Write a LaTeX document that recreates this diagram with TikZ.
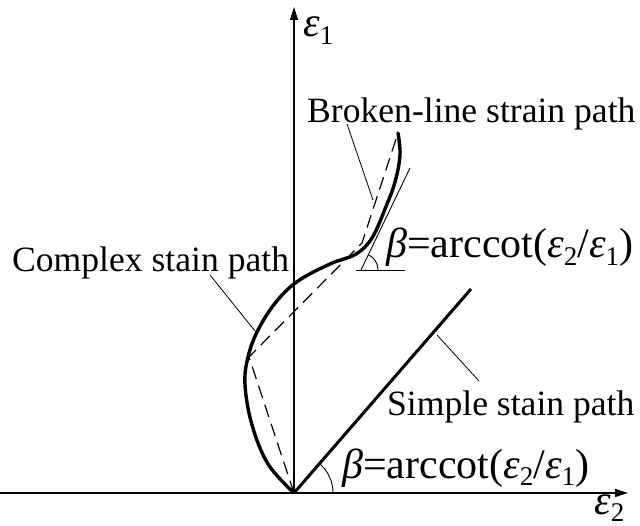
\documentclass[tikz,border=0pt]{standalone}
\usepackage{fontspec}
\setmainfont{Liberation Serif}
\usetikzlibrary{arrows.meta}
\newcommand\mysub[1]{\raisebox{-0.17em}{\fontsize{27}{27}\selectfont #1}}
\newcommand\myform{{\itshape β}=arccot({\itshape ε}\mysub{2}/{\itshape ε}\mysub{1})}
\begin{document}
\begin{tikzpicture}[x=1pt,y=-1pt,
  lbl/.style={inner sep=0pt,anchor=base west,font=\fontsize{35.6}{40}\selectfont},
  flbl/.style={inner sep=0pt,anchor=base west,font=\fontsize{42}{46}\selectfont},
  axis/.style={line width=1.2pt,-{Triangle[length=13pt,width=8pt]}},
  leader/.style={line width=0.8pt},
  thickpath/.style={line width=3.4pt,line cap=round,line join=round},
  dashpath/.style={line width=1.2pt,dash pattern=on 13pt off 7pt},
  thinline/.style={line width=0.9pt}]
\useasboundingbox (0,0) rectangle (640,526);
% axes
\coordinate (O) at (294,493);
\coordinate (xs) at (0,493);
\coordinate (xe) at (628,493);
\coordinate (ye) at (294,7);
\draw[axis] (xs) -- (xe);
\draw[axis] (O) -- (ye);
\node[flbl] (e1) at (303,37) {{\itshape ε}\mysub{1}};
\node[flbl] (e2) at (594,514) {{\itshape ε}\mysub{2}};
% simple path
\coordinate (S) at (471,289);
\draw[line width=3pt] (O) -- (S);
\draw[thinline] (O) ++(39,0) arc[start angle=0,end angle=-49,radius=39];
\node[flbl] (f2) at (342,478) {\myform};
\node[lbl] (simple) at (387,416) {Simple stain path};
\coordinate (sl1) at (437,335);
\coordinate (sl2) at (479,381);
\draw[leader] (sl2) -- (sl1);
% broken line path
\coordinate (A) at (249,357);
\coordinate (B) at (362,243);
\coordinate (C) at (398,133);
\draw[dashpath] (O) -- (A) -- (B) -- (C);
% complex path
\draw[thickpath] plot[smooth,tension=0.6] coordinates {(294,493) (268,464) (252,425) (245,385) (248,357) (258,330) (276,302) (298,281) (330,264) (356,254) (372,238) (385,209) (395,182) (400,155) (398,133)};
% tangent and angle
\coordinate (V) at (361,270);
\coordinate (T) at (410,168);
\coordinate (H) at (405,270);
\coordinate (H0) at (356,270);
\draw[thinline] (V) -- (T);
\draw[thinline] (H0) -- (H);
\draw[thinline] (V) ++(17,0) arc[start angle=0,end angle=-64,radius=17];
\node[flbl] (f1) at (386,258) {\myform};
% labels
\node[lbl] (broken) at (307,123) {Broken-line strain path};
\coordinate (bl1) at (347,124);
\coordinate (bl2) at (373,200);
\draw[leader] (bl1) -- (bl2);
\node[lbl] (complex) at (12,272) {Complex stain path};
\coordinate (cl1) at (210,275);
\coordinate (cl2) at (255,331);
\draw[leader] (cl1) -- (cl2);
\end{tikzpicture}
\end{document}
